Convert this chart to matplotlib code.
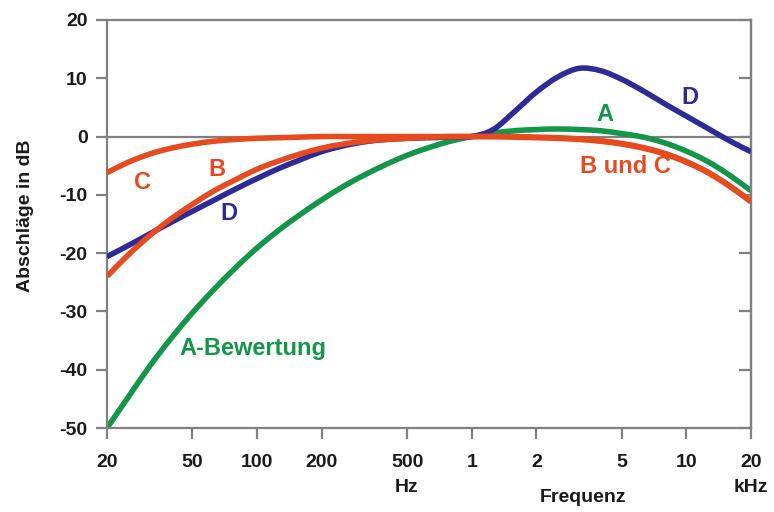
import numpy as np
import matplotlib.pyplot as plt
from matplotlib.path import Path
from matplotlib.patches import PathPatch

plt.rcParams['font.family'] = ['Liberation Sans', 'DejaVu Sans']
plt.rcParams['axes.unicode_minus'] = False

# Terzband-Mittenfrequenzen in Hz (exakte Werte)
freq = [20, 25.12, 31.62, 39.81, 50.12, 63.10, 79.43, 100, 125.9, 158.5, 199.5,
        251.2, 316.2, 398.1, 501.2, 631.0, 794.3, 1000, 1259, 1585, 1995, 2512,
        3162, 3981, 5012, 6310, 7943, 10000, 12589, 15849, 20000]

# Bewertungskurven in dB
a_db = [-50.0, -44.7, -39.4, -34.6, -30.2, -26.2, -22.5, -19.1, -16.1, -13.4,
        -10.9, -8.6, -6.6, -4.8, -3.2, -1.9, -0.8, 0.0, 0.6, 1.0, 1.2, 1.3,
        1.2, 1.0, 0.5, -0.1, -1.1, -2.5, -4.3, -6.6, -9.3]
b_db = [-24.0, -20.3, -17.0, -14.1, -11.6, -9.3, -7.4, -5.6, -4.2, -3.0,
        -2.0, -1.3, -0.8, -0.5, -0.3, -0.1, 0.0, 0.0, 0.0, 0.0, -0.1, -0.2,
        -0.4, -0.7, -1.2, -1.9, -2.9, -4.3, -6.1, -8.4, -11.1]
c_db = [-6.2, -4.4, -3.0, -2.0, -1.3, -0.8, -0.5, -0.3, -0.2, -0.1,
        0.0, 0.0, 0.0, 0.0, 0.0, 0.0, 0.0, 0.0, 0.0, -0.1, -0.2, -0.3,
        -0.5, -0.8, -1.3, -2.0, -3.0, -4.4, -6.2, -8.5, -11.2]
d_db = [-20.6, -18.7, -16.7, -14.7, -12.8, -10.9, -9.0, -7.2, -5.5, -4.0,
        -2.6, -1.6, -0.9, -0.5, -0.3, -0.2, -0.1, 0.0, 1.2, 4.3, 7.6, 10.2,
        11.7, 11.3, 9.8, 7.8, 5.6, 3.5, 1.4, -0.7, -2.6]

xticks = [20, 50, 100, 200, 500, 1000, 2000, 5000, 10000, 20000]
xticklabels = ['20', '50', '100', '200', '500\nHz', '1', '2', '5', '10', '20\nkHz']
yticks = [-50, -40, -30, -20, -10, 0, 10, 20]

green = '#14964a'
blue = '#2e2a96'
red = '#e64a1e'
grey = '#808080'
textcol = '#1a1a1a'


def smooth_curve(ax, f, db, **kw):
    # Kurve als Bezier-Pfad durch die Stützstellen (Catmull-Rom im log-f-Raum)
    p = np.column_stack([np.log10(f), db])
    p = np.vstack([p[0], p, p[-1]])
    verts = [p[1]]
    codes = [Path.MOVETO]
    for i in range(1, len(p) - 2):
        c1 = p[i] + (p[i + 1] - p[i - 1]) / 6
        c2 = p[i + 1] - (p[i + 2] - p[i]) / 6
        verts += [c1, c2, p[i + 1]]
        codes += [Path.CURVE4] * 3
    verts = np.array(verts)
    verts[:, 0] = 10 ** verts[:, 0]
    patch = PathPatch(Path(verts, codes), fill=False, capstyle='butt',
                      joinstyle='round', **kw)
    ax.add_patch(patch)


fig = plt.figure(figsize=(7.74, 5.12), dpi=100)
ax = fig.add_axes([0.1382, 0.164, 0.8321, 0.797])

ax.set_xscale('log')
ax.set_xlim(20, 20000)
ax.set_ylim(-50, 20)

ax.axhline(0, color=grey, lw=1.6, zorder=1)
smooth_curve(ax, freq, a_db, edgecolor=green, lw=4.0, zorder=2)
smooth_curve(ax, freq, d_db, edgecolor=blue, lw=4.0, zorder=3)
smooth_curve(ax, freq, b_db, edgecolor=red, lw=4.0, zorder=4)
smooth_curve(ax, freq, c_db, edgecolor=red, lw=4.0, zorder=4)

ax.set_xticks(xticks)
ax.set_xticklabels(xticklabels)
ax.xaxis.set_minor_locator(plt.NullLocator())
ax.set_yticks(yticks)

for s in ax.spines.values():
    s.set_color(grey)
    s.set_linewidth(1.6)

ax.tick_params(axis='both', colors=grey, width=1.6, length=8, labelcolor=textcol,
               labelsize=14)
ax.tick_params(axis='y', pad=6)
ax.tick_params(axis='x', pad=11)
for lab in ax.get_xticklabels() + ax.get_yticklabels():
    lab.set_fontweight('bold')
    lab.set_linespacing(1.55)

# Striche am rechten Rand nach innen
right = ax.secondary_yaxis('right')
right.set_yticks(yticks)
right.tick_params(direction='in', length=9, width=1.6, colors=grey, labelright=False)
right.spines['right'].set_color(grey)
right.spines['right'].set_linewidth(1.6)

ax.set_ylabel('Abschläge in dB', fontsize=14, fontweight='bold', color=textcol)
ax.yaxis.set_label_coords(-0.113, 0.52)
fig.text(0.753, 0.029, 'Frequenz', fontsize=14, fontweight='bold', color=textcol,
         ha='center', va='center')

lab_kw = dict(fontsize=17, fontweight='bold', ha='center', va='center')
ax.text(29.4, -7.9, 'C', color=red, **lab_kw)
ax.text(65, -5.7, 'B', color=red, **lab_kw)
ax.text(74, -13.2, 'D', color=blue, **lab_kw)
ax.text(96, -36.4, 'A-Bewertung', color=green, **lab_kw)
ax.text(4174, 3.8, 'A', color=green, **lab_kw)
ax.text(10380, 6.7, 'D', color=blue, **lab_kw)
ax.text(5228, -5.1, 'B und C', color=red, **lab_kw)

fig.savefig('out.png', dpi=100)
